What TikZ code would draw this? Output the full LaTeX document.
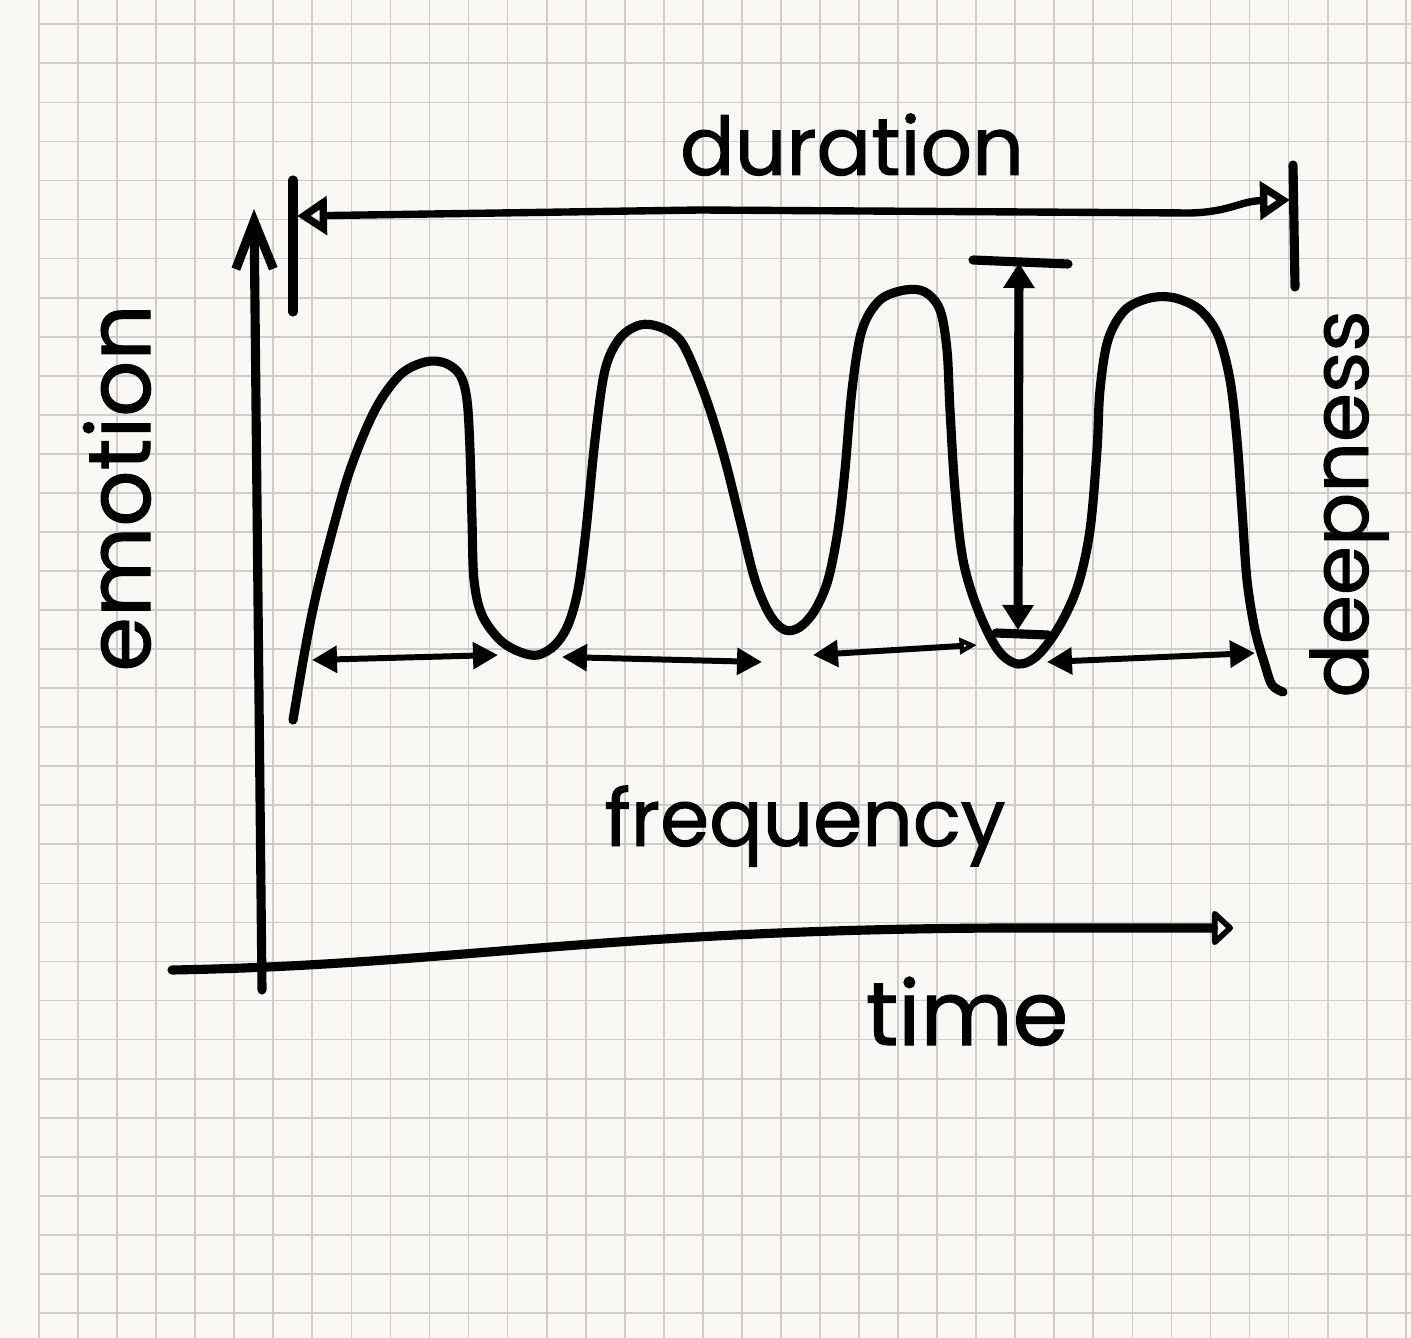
\documentclass[tikz,border=0pt]{standalone}
\usepackage{fontspec}
\setmainfont{Poppins}[FakeBold=1.2]
\usetikzlibrary{arrows.meta}
\definecolor{paper}{RGB}{250,248,244}
\definecolor{gridgray}{RGB}{208,204,198}
\tikzset{
  ink/.style={line width=5.2pt,line cap=round,line join=round},
  thinink/.style={line width=3.4pt,line cap=round,line join=round},
  gridline/.style={gridgray,line width=1pt},
  word/.style={font=\fontsize{#1}{#1}\selectfont,inner sep=0pt,anchor=base},
  Fhead/.tip={Triangle[length=0.5cm,width=0.52cm]},
  Ohead/.tip={Triangle[open,length=0.6cm,width=0.75cm]},
}

\begin{document}
\begin{tikzpicture}[x=0.02cm,y=-0.02cm]
    \useasboundingbox (0,0) rectangle (1411,1338);
    \fill[paper] (0,0) rectangle (1411,1338);
    \foreach \i in {0,...,35}
        \draw[gridline] ({39+39.05*\i},0) -- ({39+39.05*\i},1338);
    \foreach \j in {0,...,33}
        \draw[gridline] (39,{24.3+39.05*\j}) -- (1411,{24.3+39.05*\j});

    % axes
    \coordinate (origin) at (262,990);
    \coordinate (ytop)   at (254,209);
    \coordinate (xleft)  at (172,970);
    \coordinate (xright) at (1233,928);
    \draw[ink,-{Straight Barb[length=0.95cm,width=0.75cm]}] (origin) -- (ytop);
    \draw[ink,-{Triangle[open,round,length=0.45cm,width=0.8cm]}]
        (xleft) .. controls (450,965) and (600,930) .. (1000,928) -- (xright);

    % duration
    \coordinate (barLtop) at (293,180);
    \coordinate (barLbot) at (293,312);
    \coordinate (barRtop) at (1293,165);
    \coordinate (barRbot) at (1295,287);
    \coordinate (durL) at (297,216);
    \coordinate (durR) at (1290,200);
    \draw[ink] (barLtop) -- (barLbot);
    \draw[ink] (barRtop) -- (barRbot);
    \draw[ink,line width=4.2pt,Ohead-Ohead] (durL) -- (700,210) -- (1190,213)
        .. controls (1230,212) and (1240,201) .. (durR);

    % emotion curve
    \draw[ink] plot[smooth,tension=0.55] coordinates {
        (293,720) (305,650) (315,600) (330,540) (350,470) (375,410) (400,375)
        (425,362) (445,363) (460,375) (467,400) (470,450) (472,520) (474,580)
        (482,615) (500,640) (520,652) (538,655) (555,645) (568,625) (578,590)
        (586,530) (595,440) (605,370) (620,338) (640,325) (660,327) (680,340)
        (695,370) (710,410) (725,460) (740,520) (755,580) (770,615) (785,630)
        (800,627) (815,610) (828,580) (838,530) (845,470) (852,390) (862,330)
        (880,300) (905,290) (925,292) (940,310) (947,350) (950,410) (955,490)
        (963,560) (978,610) (998,650) (1018,664) (1038,655) (1060,625)
        (1078,585) (1090,530) (1097,450) (1100,390) (1108,340) (1125,310)
        (1150,298) (1175,298) (1200,310) (1218,335) (1230,380) (1237,440)
        (1242,510) (1247,580) (1255,630) (1265,665) (1272,685) (1283,692)};

    % frequency
    \coordinate (f1a) at (312,660);  \coordinate (f1b) at (498,655);
    \coordinate (f2a) at (562,657);  \coordinate (f2b) at (762,662);
    \coordinate (f3a) at (813,655);  \coordinate (f3b) at (977,645);
    \coordinate (f4a) at (1047,662); \coordinate (f4b) at (1255,653);
    \draw[thinink,Fhead-Fhead] (f1a) -- (f1b);
    \draw[thinink,Fhead-Fhead] (f2a) -- (f2b);
    \draw[thinink,Fhead-{Triangle[open,length=0.35cm,width=0.32cm]}] (f3a) -- (f3b);
    \draw[thinink,Fhead-Fhead] (f4a) -- (f4b);

    % deepness
    \coordinate (dtop) at (1019,263);
    \coordinate (dbot) at (1018,630);
    \draw[ink] (973,260) -- (1068,264);
    \draw[ink] (996,633) -- (1048,635);
    \draw[ink,{Triangle[length=0.5cm,width=0.6cm]}-{Triangle[length=0.5cm,width=0.6cm]}]
        (dtop) -- (dbot);

    % labels
    \node[word=46] (duration)  at (852,175)  {duration};
    \node[word=45] (frequency) at (805,846)  {frequency};
    \node[word=51] (time)      at (967,1045) {time};
    \node[word=50,rotate=90] (emotion)  at (150,488)  {emotion};
    \node[word=45,rotate=90] (deepness) at (1368,504) {deepness};
\end{tikzpicture}
\end{document}
